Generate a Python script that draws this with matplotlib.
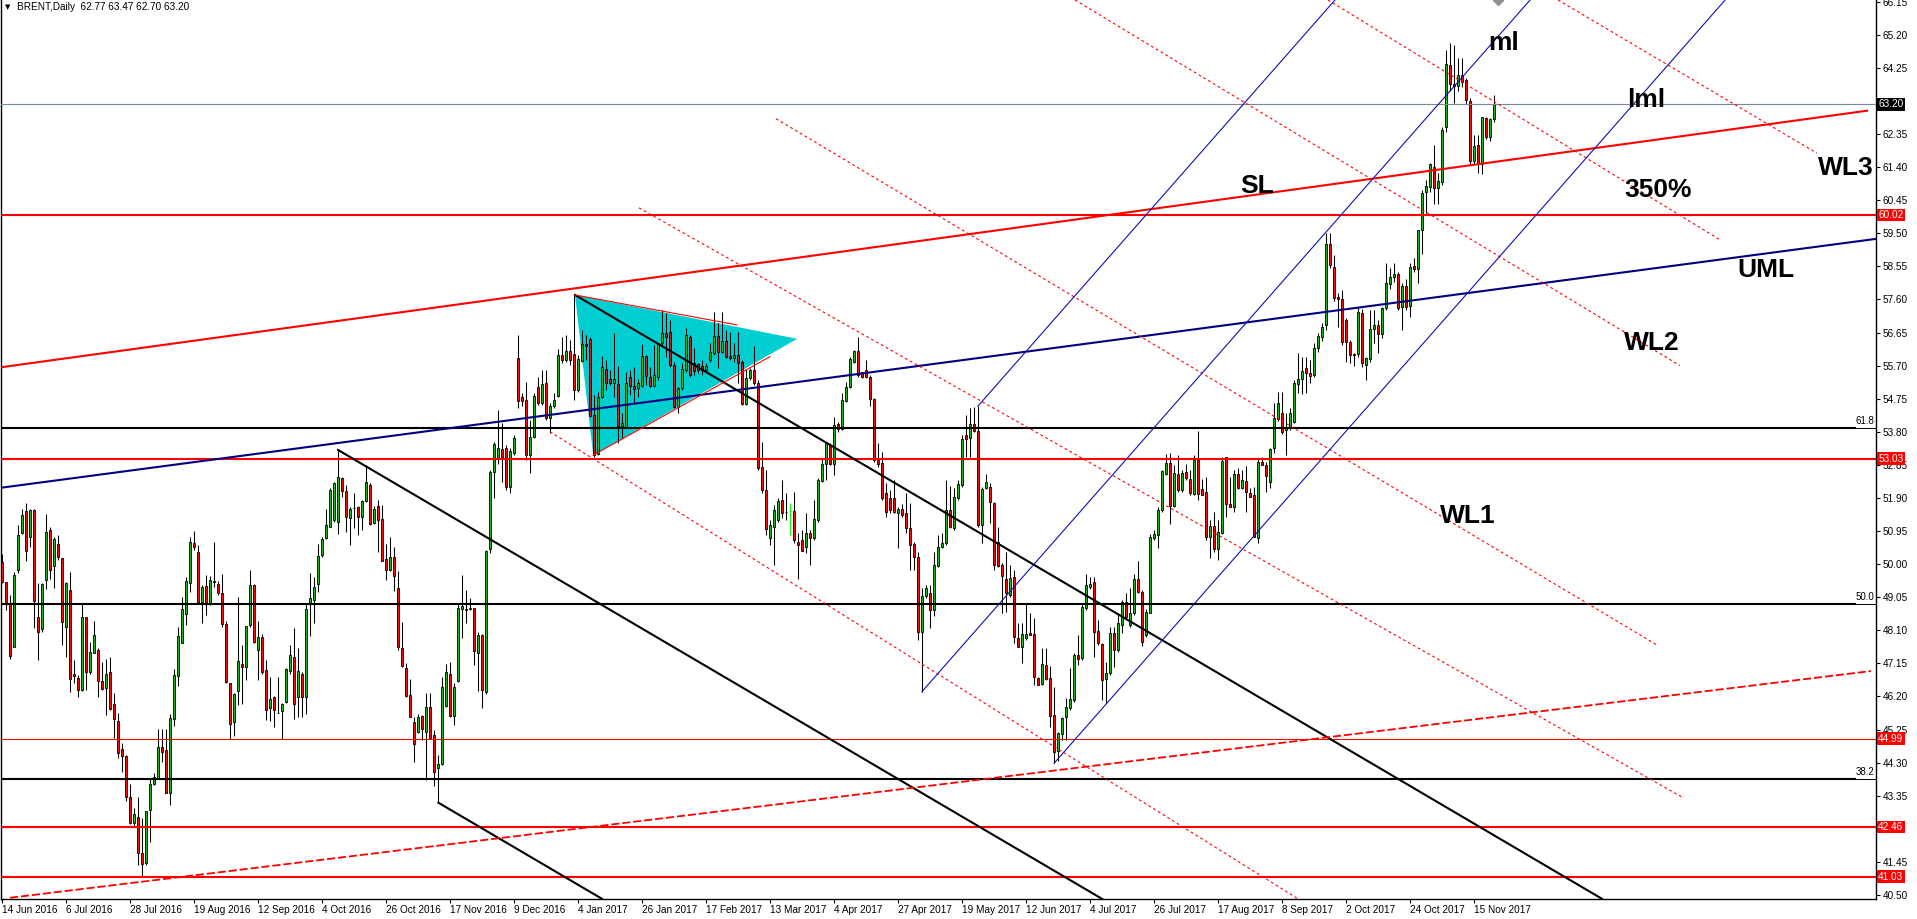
import numpy as np
import matplotlib.pyplot as plt
from matplotlib.transforms import blended_transform_factory

plt.rcParams['font.family'] = ['Liberation Sans', 'DejaVu Sans']

# daily BRENT candles, one value per trading day (bar 0 = 14 Jun 2016)
opens = [
    50.07, 49.48, 48.89, 47.63, 49.83, 50.90, 51.53, 50.77, 51.55, 48.49,
    48.15, 49.55, 50.98, 49.96, 50.58, 50.17, 48.19, 49.25, 46.84, 46.73,
    46.39, 48.47, 46.91, 47.46, 47.53, 46.65, 46.43, 46.89, 45.97, 45.51,
    44.69, 44.49, 43.31, 42.56, 42.73, 41.70, 41.43, 42.94, 43.69, 43.85,
    44.74, 44.66, 43.44, 45.56, 46.79, 47.75, 48.58, 49.47, 50.60, 50.36,
    48.91, 49.37, 48.87, 49.53, 49.43, 49.16, 48.27, 46.58, 45.46, 46.35,
    47.12, 47.06, 48.24, 49.39, 47.53, 47.92, 46.96, 45.86, 46.19, 45.74,
    45.78, 46.05, 46.92, 47.34, 46.19, 46.86, 46.19, 48.87, 48.97, 49.43,
    50.25, 50.75, 51.08, 51.27, 51.20, 52.46, 52.10, 51.32, 51.62, 51.63,
    51.36, 51.82, 52.27, 51.17, 51.67, 51.29, 50.14, 49.83, 50.20, 49.31,
    47.58, 47.01, 46.23, 45.48, 45.19, 45.64, 45.19, 45.89, 45.08, 44.14,
    44.25, 45.94, 46.85, 45.64, 46.65, 48.71, 48.70, 48.73, 48.73, 47.45,
    47.96, 46.34, 50.43, 52.66, 53.04, 53.31, 53.33, 52.21, 53.18, 55.91,
    54.81, 54.71, 53.13, 53.66, 55.08, 54.62, 55.19, 54.21, 54.54, 54.84,
    56.01, 55.86, 56.13, 56.03, 55.00, 55.84, 56.31, 56.46, 54.28, 53.15,
    54.79, 55.59, 55.32, 55.19, 55.16, 53.97, 53.95, 55.36, 55.12, 55.05,
    55.12, 55.98, 55.38, 55.12, 55.38, 56.34, 56.63, 56.67, 55.72, 54.52,
    55.05, 55.58, 56.53, 55.77, 55.74, 55.69, 55.58, 55.86, 56.05, 56.55,
    56.10, 56.42, 55.98, 55.91, 56.01, 55.81, 54.60, 55.34, 55.58, 55.21,
    52.78, 52.13, 50.74, 51.08, 51.27, 51.84, 51.51, 51.53, 51.53, 50.65,
    50.69, 50.50, 50.90, 50.74, 51.27, 52.39, 52.87, 53.42, 52.89, 54.01,
    53.88, 54.69, 55.08, 55.81, 56.12, 55.51, 55.58, 55.38, 54.73, 52.99,
    52.91, 52.03, 51.89, 51.89, 51.46, 51.57, 51.48, 51.03, 50.58, 50.20,
    48.06, 49.09, 49.16, 48.68, 49.95, 50.48, 50.60, 51.56, 51.03, 51.89,
    52.27, 53.71, 53.61, 54.02, 53.83, 51.12, 52.20, 52.21, 51.77, 50.65,
    49.97, 49.56, 49.11, 49.64, 47.87, 47.63, 47.87, 48.01, 47.99, 46.72,
    46.55, 47.10, 46.72, 45.67, 44.64, 45.12, 45.62, 45.86, 46.10, 47.39,
    47.30, 48.73, 49.33, 49.48, 48.08, 47.71, 46.69, 46.88, 48.01, 47.54,
    48.25, 48.90, 48.24, 48.59, 49.56, 49.21, 47.97, 48.61, 50.74, 50.84,
    51.56, 52.59, 52.91, 51.67, 52.59, 52.13, 52.66, 52.45, 52.01, 52.99,
    52.15, 52.08, 50.77, 51.10, 50.43, 50.90, 53.07, 51.73, 51.65, 52.59,
    52.18, 52.39, 52.03, 51.99, 50.74, 52.92, 52.85, 52.37, 53.33, 54.16,
    54.35, 53.86, 53.93, 54.09, 55.16, 55.31, 55.62, 55.50, 55.43, 56.20,
    56.51, 56.87, 59.18, 58.54, 57.66, 57.60, 57.01, 56.39, 56.02, 56.02,
    57.22, 55.72, 55.88, 56.74, 56.87, 56.60, 57.35, 58.04, 58.25, 58.33,
    57.39, 57.99, 57.41, 58.56, 58.47, 59.60, 60.70, 60.84, 61.40, 60.79,
    60.98, 62.56, 64.33, 63.80, 63.73, 64.05, 63.90, 63.31, 61.59, 62.04,
    61.49, 62.80, 62.27, 62.77]

highs = [
    50.28, 49.50, 49.11, 49.78, 51.12, 51.57, 51.76, 51.59, 51.59, 49.45,
    49.45, 51.44, 51.06, 50.79, 50.84, 50.19, 49.50, 49.78, 47.25, 46.82,
    48.85, 48.49, 47.77, 48.37, 47.58, 47.19, 47.27, 47.32, 46.29, 45.74,
    44.86, 44.52, 43.68, 43.01, 43.31, 42.70, 42.92, 43.83, 44.01, 45.28,
    45.28, 45.28, 45.71, 46.98, 48.20, 49.05, 49.64, 50.77, 50.95, 50.55,
    49.40, 49.69, 49.67, 50.63, 49.53, 49.71, 48.37, 46.60, 46.29, 49.07,
    47.68, 48.22, 49.83, 49.43, 48.38, 48.00, 47.25, 46.77, 46.21, 46.77,
    46.00, 47.01, 47.68, 48.16, 47.58, 46.91, 48.89, 49.76, 49.64, 50.58,
    50.77, 51.58, 52.19, 52.37, 53.28, 52.51, 52.27, 51.65, 52.03, 51.67,
    51.84, 52.85, 52.32, 51.67, 51.84, 51.70, 50.57, 50.79, 50.48, 49.80,
    48.35, 47.15, 46.69, 45.62, 45.71, 45.67, 46.31, 46.29, 45.24, 44.52,
    46.75, 47.13, 47.18, 46.58, 48.87, 49.69, 49.25, 49.02, 48.73, 48.05,
    48.00, 50.41, 52.70, 53.52, 54.43, 54.04, 53.42, 53.33, 53.71, 56.58,
    54.91, 55.24, 54.14, 54.90, 55.38, 55.57, 55.57, 54.62, 54.90, 56.17,
    56.51, 56.58, 56.44, 57.73, 56.00, 56.72, 56.58, 56.53, 54.86, 54.95,
    55.98, 55.86, 55.57, 56.63, 55.70, 54.33, 55.53, 55.57, 55.67, 55.33,
    56.32, 56.00, 55.67, 56.29, 56.36, 57.30, 57.20, 57.01, 55.81, 55.10,
    55.77, 56.77, 56.58, 56.20, 55.77, 55.86, 55.77, 56.34, 57.25, 56.91,
    57.25, 56.72, 56.67, 56.34, 56.67, 55.86, 55.59, 55.62, 56.26, 55.29,
    53.52, 52.70, 51.27, 51.70, 51.89, 52.42, 52.03, 51.77, 52.08, 50.89,
    50.98, 51.46, 50.98, 51.84, 52.47, 53.04, 53.52, 53.47, 54.22, 54.09,
    54.90, 55.24, 55.96, 56.15, 56.51, 55.53, 55.86, 55.43, 54.76, 53.47,
    53.23, 52.32, 52.13, 52.42, 51.65, 51.74, 52.03, 51.75, 50.65, 50.36,
    49.31, 49.40, 49.40, 50.36, 50.84, 50.89, 52.42, 52.23, 52.18, 52.42,
    53.71, 54.28, 54.47, 54.52, 54.54, 52.22, 52.59, 52.32, 51.79, 51.08,
    50.02, 50.36, 49.97, 49.83, 48.30, 48.30, 48.89, 48.61, 48.44, 46.77,
    47.58, 47.58, 47.08, 46.48, 45.19, 45.62, 46.15, 47.01, 47.44, 47.97,
    48.87, 49.72, 49.64, 49.64, 48.40, 47.75, 47.20, 48.20, 48.20, 48.59,
    48.97, 49.16, 49.31, 49.72, 50.10, 49.26, 48.70, 50.88, 50.98, 51.65,
    52.70, 53.16, 53.18, 52.85, 53.13, 52.70, 52.89, 52.70, 53.13, 53.82,
    52.44, 52.51, 51.27, 51.51, 51.27, 53.09, 53.09, 52.51, 52.70, 52.75,
    52.70, 52.82, 52.18, 52.22, 53.04, 53.09, 52.94, 53.33, 54.62, 54.95,
    54.95, 54.33, 54.47, 55.29, 56.06, 55.96, 55.96, 55.86, 56.34, 56.63,
    56.91, 59.50, 59.50, 58.88, 57.78, 57.87, 57.06, 56.44, 56.05, 57.39,
    57.34, 55.96, 57.30, 57.30, 57.01, 57.39, 58.64, 58.49, 58.64, 58.40,
    58.06, 58.20, 58.64, 58.78, 59.60, 60.74, 61.03, 61.51, 62.04, 61.22,
    62.56, 64.76, 64.95, 64.91, 64.52, 64.52, 63.95, 63.38, 62.32, 62.32,
    62.85, 62.85, 62.80, 63.47]

lows = [
    49.45, 48.68, 47.27, 47.61, 49.74, 50.88, 50.10, 50.48, 48.16, 47.25,
    48.06, 49.28, 49.56, 49.31, 50.12, 47.68, 47.34, 46.34, 46.58, 46.18,
    46.37, 46.39, 46.86, 47.44, 46.19, 46.39, 45.67, 45.81, 45.00, 44.43,
    44.04, 43.21, 42.53, 42.46, 41.36, 41.03, 41.36, 42.03, 43.66, 43.83,
    44.33, 43.42, 43.08, 45.36, 46.50, 47.73, 48.24, 49.21, 50.41, 48.87,
    48.30, 48.53, 48.83, 49.35, 49.11, 48.19, 46.58, 44.97, 45.07, 45.96,
    45.98, 46.67, 48.20, 47.73, 46.67, 46.86, 45.52, 45.50, 45.33, 45.72,
    44.97, 46.00, 46.86, 45.54, 45.60, 45.60, 45.69, 47.94, 48.32, 49.19,
    50.21, 50.71, 51.06, 51.22, 50.87, 51.94, 50.91, 50.55, 51.03, 50.84,
    50.98, 51.79, 51.13, 51.15, 50.36, 50.10, 49.55, 49.81, 49.24, 47.54,
    47.06, 46.19, 45.60, 44.33, 45.14, 44.95, 43.80, 45.00, 43.64, 43.15,
    44.22, 45.91, 45.62, 45.38, 46.63, 47.87, 48.30, 48.68, 47.10, 46.37,
    45.88, 46.27, 50.33, 51.89, 52.89, 52.37, 52.13, 52.03, 53.13, 54.47,
    54.54, 52.99, 52.63, 53.61, 54.57, 54.57, 54.14, 53.78, 54.47, 54.81,
    55.77, 55.81, 55.72, 54.71, 54.95, 55.81, 55.86, 54.23, 53.09, 53.13,
    54.76, 55.00, 55.14, 54.81, 53.47, 53.61, 53.90, 54.86, 54.62, 54.81,
    55.10, 55.14, 55.10, 55.10, 55.29, 56.29, 55.96, 55.67, 54.47, 54.33,
    55.00, 55.53, 55.38, 55.43, 55.48, 55.43, 55.53, 55.81, 56.01, 55.62,
    56.05, 55.91, 55.86, 55.81, 55.19, 54.57, 54.57, 55.29, 55.14, 52.70,
    52.03, 50.84, 50.55, 49.98, 51.22, 51.32, 51.27, 50.84, 50.60, 49.56,
    50.38, 50.31, 49.98, 50.69, 51.22, 52.37, 52.42, 52.85, 52.56, 53.80,
    53.85, 54.67, 55.05, 55.77, 55.38, 55.34, 55.34, 54.54, 52.94, 52.80,
    51.84, 51.36, 51.46, 51.46, 50.45, 51.36, 50.89, 49.83, 49.83, 47.82,
    46.34, 49.02, 48.16, 48.51, 49.93, 50.45, 50.55, 51.03, 50.98, 51.84,
    52.22, 53.09, 53.09, 53.80, 51.08, 50.60, 52.15, 51.17, 49.83, 49.93,
    48.59, 48.64, 49.07, 47.73, 47.63, 47.15, 47.82, 47.97, 46.53, 46.53,
    46.53, 46.67, 45.33, 44.28, 44.36, 44.95, 44.95, 45.81, 46.05, 47.10,
    47.25, 48.68, 49.30, 47.34, 47.68, 46.10, 46.00, 46.82, 47.06, 47.49,
    48.01, 48.44, 48.20, 48.54, 49.16, 47.65, 47.92, 48.59, 50.69, 50.45,
    51.51, 52.56, 51.15, 51.65, 52.08, 52.08, 52.42, 51.98, 51.98, 51.84,
    51.98, 50.69, 50.17, 50.36, 50.12, 50.88, 51.36, 51.65, 51.51, 52.15,
    52.15, 51.51, 51.94, 50.77, 50.62, 52.85, 52.08, 52.18, 53.18, 54.10,
    53.75, 53.13, 53.85, 54.06, 54.91, 54.89, 54.91, 55.19, 55.38, 56.10,
    56.40, 56.72, 58.50, 57.55, 56.82, 56.30, 55.81, 55.77, 55.69, 55.95,
    55.67, 55.29, 55.80, 56.34, 56.07, 56.50, 57.30, 57.90, 58.10, 57.30,
    56.72, 57.30, 57.10, 58.40, 58.06, 58.90, 60.07, 60.70, 60.34, 60.34,
    60.89, 62.42, 63.60, 63.23, 63.60, 63.70, 63.20, 61.50, 61.50, 61.22,
    61.20, 62.20, 62.16, 62.70]

closes = [
    49.50, 48.87, 47.36, 49.69, 50.83, 51.41, 50.39, 51.55, 48.95, 48.05,
    49.43, 50.92, 49.83, 50.73, 50.20, 48.35, 49.45, 46.69, 46.80, 46.39,
    48.47, 46.89, 47.48, 47.96, 46.65, 46.41, 46.86, 45.83, 45.54, 44.57,
    44.49, 43.32, 42.58, 42.83, 41.70, 41.38, 42.92, 43.68, 43.90, 44.74,
    44.60, 43.42, 45.57, 46.81, 47.94, 48.71, 49.52, 50.63, 50.48, 48.91,
    49.34, 48.87, 49.55, 49.50, 49.16, 48.27, 46.61, 45.40, 46.26, 47.21,
    47.04, 48.22, 49.39, 47.77, 47.92, 46.89, 45.81, 46.12, 45.81, 45.72,
    45.97, 46.99, 47.38, 45.98, 46.92, 46.19, 48.70, 49.03, 49.33, 50.24,
    50.71, 51.13, 52.13, 52.34, 52.49, 52.11, 51.34, 51.58, 51.60, 51.34,
    51.81, 52.37, 51.14, 51.57, 51.27, 50.10, 49.83, 50.20, 49.67, 47.63,
    47.07, 46.22, 45.60, 44.83, 45.62, 45.26, 45.89, 45.00, 44.04, 44.25,
    46.46, 46.91, 45.64, 46.46, 48.73, 48.80, 48.68, 48.71, 47.51, 47.96,
    46.39, 50.39, 52.66, 53.44, 53.33, 53.09, 52.21, 53.25, 53.61, 54.69,
    54.69, 53.13, 53.66, 54.83, 54.62, 55.17, 54.21, 54.54, 54.71, 56.01,
    55.86, 56.13, 55.86, 55.00, 55.89, 56.32, 56.25, 54.25, 53.13, 54.79,
    55.65, 55.19, 55.19, 55.31, 53.97, 54.04, 55.19, 55.12, 55.02, 55.19,
    55.98, 55.41, 55.12, 55.42, 56.36, 56.63, 56.53, 55.72, 54.52, 55.05,
    55.59, 56.58, 55.43, 55.56, 55.58, 55.58, 55.69, 56.10, 56.55, 56.10,
    56.42, 55.96, 55.91, 56.01, 55.77, 54.60, 55.34, 55.58, 55.19, 52.75,
    52.13, 51.00, 51.12, 51.56, 51.82, 51.48, 51.49, 51.53, 50.69, 50.55,
    50.39, 50.90, 50.74, 51.29, 52.42, 52.89, 53.49, 52.89, 53.99, 53.88,
    54.71, 55.08, 55.89, 56.12, 55.43, 55.38, 55.38, 54.73, 52.99, 52.89,
    51.89, 51.51, 51.56, 51.51, 51.57, 51.41, 51.03, 50.55, 50.20, 48.06,
    49.09, 49.31, 48.68, 49.98, 50.50, 50.60, 51.56, 51.08, 51.94, 52.29,
    53.58, 53.60, 54.02, 53.83, 51.12, 52.15, 52.37, 51.79, 49.97, 49.95,
    49.66, 49.16, 49.59, 47.92, 47.63, 47.98, 47.99, 47.97, 46.77, 46.53,
    47.12, 46.69, 45.65, 44.62, 45.14, 45.57, 45.91, 46.12, 47.39, 47.27,
    48.78, 49.40, 49.43, 48.06, 47.73, 46.67, 46.88, 48.03, 47.54, 48.30,
    48.90, 48.49, 48.59, 49.56, 49.21, 47.77, 48.64, 50.77, 50.87, 51.56,
    52.67, 52.91, 51.67, 52.61, 52.13, 52.61, 52.47, 52.03, 52.99, 52.01,
    51.98, 50.77, 51.10, 50.43, 50.93, 52.97, 51.73, 51.65, 52.59, 52.18,
    52.42, 52.06, 51.94, 50.77, 52.94, 52.85, 52.53, 53.30, 54.19, 54.62,
    53.80, 53.94, 54.35, 55.19, 55.31, 55.56, 55.48, 55.40, 56.20, 56.55,
    56.80, 59.18, 58.59, 57.63, 57.60, 56.39, 56.39, 56.01, 56.00, 57.25,
    55.77, 55.91, 56.74, 56.87, 56.60, 57.35, 58.06, 58.25, 58.33, 57.35,
    57.99, 57.39, 58.54, 58.47, 59.60, 60.65, 60.86, 61.49, 60.79, 61.00,
    62.47, 64.36, 63.80, 63.73, 64.05, 63.85, 63.33, 61.58, 62.01, 61.48,
    62.83, 62.26, 62.78, 63.20]

# time axis: one label every 16 bars
date_labels = ['14 Jun 2016', '6 Jul 2016', '28 Jul 2016', '19 Aug 2016', '12 Sep 2016',
               '4 Oct 2016', '26 Oct 2016', '17 Nov 2016', '9 Dec 2016', '4 Jan 2017',
               '26 Jan 2017', '17 Feb 2017', '13 Mar 2017', '4 Apr 2017', '27 Apr 2017',
               '19 May 2017', '12 Jun 2017', '4 Jul 2017', '26 Jul 2017', '17 Aug 2017',
               '8 Sep 2017', '2 Oct 2017', '24 Oct 2017', '15 Nov 2017']
price_ticks = [40.50, 41.45, 42.40, 43.35, 44.30, 45.25, 46.20, 47.15, 48.10, 49.05,
               50.00, 50.95, 51.90, 52.85, 53.80, 54.75, 55.70, 56.65, 57.60, 58.55,
               59.50, 60.45, 61.40, 62.35, 63.30, 64.25, 65.20, 66.15]
# scale labels hidden behind the price boxes
hidden_ticks = [42.40, 63.30]

# drawn objects (bar index, price)
red_levels = [60.02, 53.03, 44.99, 42.46, 41.03]
red_level_width = [1.5, 1.5, 0.75, 1.5, 1.5]
fibo_levels = [53.90, 48.86, 43.83]
fibo_names = ['61.8', '50.0', '38.2']
last_price = 63.20
sl_line = [(-0.5, 55.65), (466.25, 63.02)]
uml_line = [(-0.5, 52.19), (468.5, 59.34)]
channel_lines = [[(143.25, 57.73), (400.0, 40.39)],
                 [(84.0, 53.28), (275.0, 40.39)],
                 [(109.1, 43.15), (150.0, 40.39)]]
warning_lines = [[(137.0, 53.80), (324.0, 40.39)],
                 [(159.25, 60.23), (420.5, 43.28)],
                 [(193.5, 62.79), (414.0, 47.66)],
                 [(268.25, 66.20), (419.5, 55.70)],
                 [(331.5, 66.20), (429.25, 59.33)],
                 [(389.0, 66.20), (453.75, 61.80)]]
rising_dash = [(2.0, 40.42), (467.25, 46.93)]
pitchfork = [(230, 46.34), (244, 54.54), (263, 44.28)]
triangle = [(143.25, 57.73), (147.8, 53.13), (198.8, 56.47)]
tri_edges = [[(143.25, 57.73), (183.7, 56.87)], [(147.8, 53.13), (192.0, 55.96)]]

o = np.array(opens); h = np.array(highs); l = np.array(lows); c = np.array(closes)
n = min(len(o), len(h), len(l), len(c))
o, h, l, c = o[:n], h[:n], l[:n], c[:n]
x = np.arange(n)

fig = plt.figure(figsize=(19.17, 9.19), dpi=100)
ax = fig.add_axes([1/1917, 20/919, 1875/1917, 899/919])

# triangle in background
ax.fill([p[0] for p in triangle], [p[1] for p in triangle], color='#00CED1', lw=0, zorder=1)

# candles
doji = c == o
ax.vlines(x[~doji], l[~doji], h[~doji], color='black', lw=0.75, zorder=2)
ax.vlines(x[doji], l[doji], h[doji], color='#00ff00', lw=0.75, zorder=2)
ax.hlines(c[doji], x[doji] - 0.3, x[doji] + 0.3, color='#00ff00', lw=0.75, zorder=2)
up = (c > o)
dn = (c < o)
ax.bar(x[up], (c - o)[up], bottom=o[up], width=0.55, color='#22b422',
       edgecolor='black', linewidth=0.6, zorder=3)
ax.bar(x[dn], (o - c)[dn], bottom=c[dn], width=0.55, color='#ee1111',
       edgecolor='black', linewidth=0.6, zorder=3)

# horizontal levels
for lev, w in zip(red_levels, red_level_width):
    ax.axhline(lev, color='red', lw=w, zorder=4)
for lev in fibo_levels:
    ax.plot([-1, 463.25], [lev, lev], color='black', lw=1.5, zorder=4)
    ax.plot([463.25, 470], [lev, lev], color='black', lw=0.7, zorder=4)
ax.axhline(last_price, color='#778899', lw=0.8, zorder=4)

def seg(pts, **kw):
    ax.plot([pts[0][0], pts[1][0]], [pts[0][1], pts[1][1]], **kw)

seg(sl_line, color='red', lw=1.5, zorder=4)
seg(uml_line, color='#000080', lw=1.5, zorder=4)
for ln in channel_lines:
    seg(ln, color='black', lw=1.5, zorder=4)
for ln in warning_lines:
    seg(ln, color='red', lw=0.8, ls=(0, (2.5, 2.5)), zorder=4)
seg(rising_dash, color='red', lw=1.3, ls=(0, (4.5, 1.6)), zorder=4)
for ln in tri_edges:
    seg(ln, color='red', lw=0.8, zorder=4)

# Andrews pitchfork
(ai, ap), (bi, bp), (ci, cp) = pitchfork
mid_i, mid_p = (bi + ci) / 2, (bp + cp) / 2
slope = (mid_p - ap) / (mid_i - ai)
for pi, pp in pitchfork:
    ax.plot([pi, 480], [pp, pp + slope * (480 - pi)], color='#1010b0', lw=0.8, zorder=4)

# labels
for txt, xi, yp in [('ml', 371.5, 64.76), ('lml', 406.25, 63.13), ('SL', 309.5, 60.66),
                    ('350%', 405.5, 60.54), ('WL3', 454.0, 61.18), ('UML', 433.75, 58.24),
                    ('WL2', 405.5, 56.15), ('WL1', 359.5, 51.18)]:
    ax.text(xi, yp, txt, fontsize=19, fontweight='bold', color='black',
            ha='left', va='baseline', zorder=6)

bt = blended_transform_factory(ax.transAxes, ax.transData)
for lev, name in zip(fibo_levels, fibo_names):
    ax.text(0.999, lev + 0.06, name, transform=bt, ha='right', va='bottom',
            fontsize=7, color='black', zorder=6)

ax.plot([374], [66.199], marker='D', ms=5, color='#909090', zorder=6)

ax.set_xlim(-0.25, 468.5)
ax.set_ylim(40.385, 66.199)

# right price scale
ax.yaxis.tick_right()
ax.set_yticks(price_ticks)
ax.set_yticklabels(['' if v in hidden_ticks else '%.2f' % v for v in price_ticks])
ax.tick_params(axis='y', direction='out', length=3, width=0.8, pad=2, labelsize=7.2)
ax.set_xticks(np.arange(len(date_labels)) * 16)
ax.set_xticklabels(date_labels)
ax.tick_params(axis='x', direction='out', length=3, width=0.8, pad=1.5, labelsize=7.2)
for lbl in ax.get_xticklabels():
    lbl.set_ha('left')

for lev in red_levels:
    ax.annotate('%.2f' % lev, xy=(1, lev), xycoords=bt, xytext=(1.6, 0),
                textcoords='offset points', va='center', ha='left', fontsize=7.2,
                color='white', annotation_clip=False, zorder=7,
                bbox=dict(boxstyle='square,pad=0.12', fc='red', ec='none'))
ax.annotate('%.2f' % last_price, xy=(1, last_price), xycoords=bt, xytext=(1.6, 0),
            textcoords='offset points', va='center', ha='left', fontsize=7.2,
            color='white', annotation_clip=False, zorder=7,
            bbox=dict(boxstyle='square,pad=0.12', fc='black', ec='none'))

for s in ['left', 'bottom', 'right']:
    ax.spines[s].set_color('black')
    ax.spines[s].set_linewidth(1)
ax.spines['top'].set_visible(False)

fig.text(5/1917, 1 - 7/919, '\u25bc', fontsize=5, va='center', family='DejaVu Sans')
fig.text(17/1917, 1 - 7/919, 'BRENT,Daily  %.2f %.2f %.2f %.2f' % (o[-1], h[-1], l[-1], c[-1]),
         fontsize=7.2, va='center')

fig.savefig('out.png', dpi=100, facecolor='white')
